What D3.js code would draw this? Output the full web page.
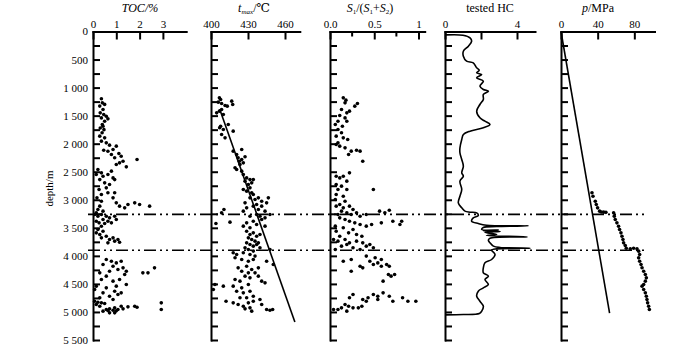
<!DOCTYPE html>
<html><head><meta charset="utf-8">
<script src="https://cdn.jsdelivr.net/npm/d3@7"></script>
<style>
body{margin:0;background:#fff}
svg{display:block}
text{font-family:"Liberation Serif","DejaVu Serif",serif;fill:#000}
</style>
</head><body>
<svg id="c" width="700" height="347" font-family="Liberation Serif, DejaVu Serif, serif"></svg>
<script>
// ---------- data ----------
const depthTicks = d3.range(0, 5501, 250);
const depthLabelTicks = [0,500,1000,1500,2000,2500,3000,3500,4000,4500,5000,5500];
const tocTicks = [0,1,2,3];
const tmaxTicks = [400,430,460];
const sTicks = [0,0.5,1];
const sTickLabels = ["0.0","0.5","1"];
const sMinorTicks = [0.25,0.75];
const hcTicks = [0,2,4];
const hcTickLabels = ["0","","4"];
const pTicks = [0,40,80];
const boundaryDepths = [3260,3900];

// [TOC %, depth m]
const tocPoints = [
[0.36,1200],[0.4,1272],[0.5,1300],[0.29,1330],[0.43,1390],[0.31,1450],[0.46,1480],[0.57,1510],[0.36,1540],[0.5,1600],
[0.4,1660],[0.31,1720],[0.47,1750],[0.39,1806],[0.29,1866],[0.5,1896],[0.36,1955],[0.57,1985],[0.64,1557],[0.43,1688],
[0.71,2026],[0.86,2104],[0.46,2116],[1.0,2044],[0.79,2193],[1.11,2175],[0.93,2252],[1.29,2312],[1.89,2282],[1.43,2413],
[1.0,2371],[1.21,2223],[0.64,2134],[1.14,2342],
[0.21,2460],[0.36,2520],[0.14,2550],[0.43,2580],[0.29,2640],[0.64,2550],[0.79,2490],[0.86,2610],[0.93,2640],[0.5,2698],
[0.71,2728],[0.57,2787],[0.26,2817],[0.64,2876],[0.36,2906],[0.17,2966],
[0.93,2876],[0.86,2966],[0.36,3025],[0.29,3114],[1.0,3055],[1.14,3114],[1.5,3085],[1.79,3055],[2.0,3085],[2.43,3114],
[1.36,3144],[0.21,3174],[0.43,3203],[0.14,3233],
[0.07,3263],[0.21,3293],[0.36,3263],[0.57,3293],[0.71,3322],[0.93,3293],[0.43,3352],[0.14,3382],[0.26,3411],[0.5,3423],
[0.64,3382],[0.79,3411],[1.0,3352],[0.36,3471],
[0.21,3530],[0.43,3560],[0.29,3620],[0.57,3649],[0.36,3679],[0.71,3709],[0.86,3679],[0.93,3738],[1.07,3709],[1.14,3756],
[0.64,3768],[0.14,3590],
[0.57,4065],[0.79,4095],[1.0,4125],[0.43,4154],[0.86,4184],[1.21,4095],[1.29,4214],[1.07,4243],[1.43,4273],[0.71,4273],
[0.29,4303],[0.57,4362],[1.36,4332],[2.14,4303],[2.36,4303],[2.64,4214],[1.14,4422],[0.36,4422],[0.86,4451],[1.43,4511],
[0.14,4540],[0.57,4570],[1.0,4540],[0.07,4600],[0.43,4659],[0.93,4630],[1.07,4689],[0.71,4719],[1.21,4659],[0.29,4748],
[0.86,4778],
[0.07,4808],[0.21,4826],[0.36,4838],[0.5,4850],[0.14,4867],[0.29,4897],[0.57,4957],[0.71,4945],[0.86,4969],[0.93,4927],
[1.07,4957],[1.21,4897],[1.29,4945],[1.5,4909],[1.79,4897],[1.89,4915],[2.93,4838],[2.93,4957],[0.43,4986],[0.71,5016],
[0.93,5016],[0.64,4975],[1.0,4980]
];

// [Tmax °C, depth m]
const tmaxPoints = [
[406.8,1183],[407.8,1212],[405.9,1260],[408.6,1284],[411.4,1319],[416.8,1242],[417.6,1301],[413.2,1331],[404.6,1450],[406.8,1420],
[408.6,1391],[410,1480],
[407.8,1688],[410,1747],[408.6,1836],[414,1658],[418,1777],[411.4,1896],[407,1717],
[418,2133],[420.8,2193],[424.9,2104],[422,2252],[424.9,2282],[426.2,2342],[419.5,2430],[423.5,2371],[427.6,2234],[420.8,2460],
[424.9,2490],[423,2312],
[426.2,2550],[428.9,2610],[431.6,2640],[427.6,2668],[430.3,2728],[433,2698],[434.3,2640],[431.6,2787],[428.9,2846],[433,2876],
[434.3,2906],[426.2,2816],
[431.6,2966],[435.7,2995],[438.4,2966],[441.1,3025],[446.5,2966],[445.1,3055],[437,3085],[434.3,3114],[441.1,3114],[438.4,3174],
[427.6,3055],[428.9,3144],[426.2,3203],[410.5,3174],[408.6,3233],[443.8,3203],[447.8,3263],
[437,3263],[439.7,3293],[431.6,3293],[443.8,3322],[441.1,3352],[434.3,3382],[428.9,3411],[404,3423],[415.4,3399],[437,3440],
[443.8,3470],[431.6,3500],[426.2,3470],
[428.9,3560],[434.3,3590],[431.6,3620],[437,3649],[439.7,3620],[430.3,3679],[433,3709],[435.7,3738],[438.4,3768],[428.9,3768],
[431.6,3797],[434.3,3827],[437,3797],[439.7,3856],[427.6,3856],[430.3,3886],[434.3,3915],[447.8,3886],
[418,3945],[420.8,3975],[426.2,3945],[431.6,3975],[435.7,4004],[419.5,4034],[424.9,4064],[430.3,4095],[434.3,4064],[445.1,4095],
[450.5,4154],[422,4214],[428.9,4184],[433,4243],[438.4,4214],[424.9,4273],[430.3,4303],[435.7,4303],[427.6,4362],[431.6,4392],
[438.4,4362],[419.5,4422],[423.5,4451],[441.1,4451],[443.8,4481],
[403.2,4511],[410,4540],[401.9,4600],[418,4540],[424.9,4570],[430.3,4511],[420.8,4630],[426.2,4659],[431.6,4630],[434.3,4719],
[428.9,4748],[423.5,4748],[439.7,4778],[412.2,4808],[418,4838],[422,4867],[426.2,4897],[430.3,4838],[434.3,4808],[431.6,4927],
[433,4986],[441.1,4867],[445.1,4957],[447.8,4969],[450,4957],[427.6,4945]
];
const tmaxTrend = [[407,1380],[468,5180]];

// [S1/(S1+S2), depth m]
const sPoints = [
[0.15,1183],[0.18,1224],[0.17,1272],[0.31,1284],[0.28,1331],[0.13,1391],[0.22,1420],[0.19,1450],[0.11,1498],[0.17,1540],
[0.09,1600],[0.06,1658],[0.14,1688],[0.19,1600],
[0.09,1747],[0.13,1806],[0.07,1866],[0.15,1896],[0.2,1925],[0.09,1985],[0.07,2014],[0.11,2044],[0.17,2074],[0.24,2133],
[0.3,2116],[0.34,2133],[0.21,2193],[0.37,2312],
[0.07,2580],[0.11,2610],[0.15,2580],[0.22,2520],[0.19,2668],[0.07,2728],[0.13,2757],[0.09,2816],[0.19,2816],[0.49,2816],
[0.07,2906],[0.15,2936],[0.06,2995],[0.17,3025],[0.11,3085],
[0.07,3114],[0.15,3144],[0.22,3114],[0.26,3174],[0.13,3203],[0.19,3233],[0.24,3263],[0.3,3233],[0.09,3263],[0.56,3203],
[0.62,3233],[0.67,3186],[0.34,3293],[0.41,3263],
[0.11,3322],[0.17,3352],[0.22,3382],[0.28,3411],[0.34,3440],[0.41,3470],[0.47,3440],[0.58,3411],[0.71,3382],[0.81,3382],
[0.79,3440],[0.06,3470],[0.15,3500],[0.26,3530],[0.21,3590],[0.07,3560],[0.11,3649],[0.3,3620],[0.36,3649],
[0.04,3709],[0.09,3738],[0.17,3709],[0.22,3768],[0.3,3738],[0.37,3768],[0.45,3797],[0.13,3827],[0.19,3797],[0.26,3856],
[0.41,3827],[0.49,3856],[0.06,3886],[0.34,3886],
[0.41,4004],[0.51,4034],[0.58,4064],[0.15,4095],[0.24,4064],[0.45,4095],[0.54,4125],[0.49,4154],[0.64,4154],[0.34,4184],
[0.37,4214],[0.67,4184],[0.58,4184],[0.24,4273],[0.73,4332],[0.69,4362],[0.66,4332],[0.6,4451],
[0.26,4689],[0.22,4748],[0.37,4778],[0.43,4748],[0.49,4689],[0.54,4719],[0.54,4778],[0.6,4659],[0.67,4719],[0.71,4808],
[0.82,4748],[0.88,4808],[0.97,4808],[0.17,4867],[0.21,4897],[0.13,4927],[0.19,4986],[0.26,4927],[0.32,4927],[0.36,4897],
[0.09,4957],[0.04,4957],[0.41,4808]
];

// tested HC curve [value, depth m]
const hcCurve = [
[0.05,60],[1.0,66],[1.39,113],[1.48,172],[1.3,261],[1.02,351],[1.02,440],[1.2,529],[1.57,559],[1.76,648],
[1.9,689],[1.76,737],[2.04,767],[1.76,826],[2.13,885],[1.94,975],[2.13,1034],[2.41,1064],[2.13,1123],[2.13,1212],
[1.94,1301],[1.76,1420],[1.94,1539],[2.22,1599],[2.5,1658],[2.13,1717],[1.39,1777],[1.02,1836],[0.93,1925],[0.83,2074],
[0.83,2163],[0.93,2282],[1.02,2401],[0.93,2520],[1.02,2579],[0.83,2668],[0.93,2817],[0.83,2936],[0.74,3055],[0.93,3144],
[1.11,3203],[1.39,3221],[1.76,3233],[1.85,3280],[1.57,3322],[1.48,3382],[1.85,3423],[2.31,3453],[4.63,3465],[2.87,3477],
[2.13,3494],[2.04,3530],[2.96,3540],[2.13,3552],[3.06,3566],[2.22,3580],[2.87,3619],[2.31,3637],[4.57,3661],[2.5,3685],
[2.41,3720],[2.5,3768],[2.69,3827],[3.06,3851],[4.72,3863],[2.87,3875],[2.59,3898],[2.78,3975],[2.59,4065],[2.22,4124],
[2.13,4213],[2.13,4302],[2.41,4362],[2.22,4421],[2.41,4510],[2.13,4570],[1.85,4629],[1.76,4718],[1.94,4808],[2.13,4897],
[2.04,4986],[1.91,5028],[1.02,5046],[0.05,5052]
];

// pressure [MPa, depth m]
const pPoints = [
[33.8,2876],[34.9,2936],[37.4,3025],[38.5,3084],[39.9,3144],[42.1,3203],[44,3218],[46.5,3221],[49,3224],
[57.4,3233],[58.1,3292],[59.2,3352],[61,3411],[62.8,3471],[63.9,3530],[65.4,3590],[66.5,3649],[67.6,3709],[68.3,3768],
[70.1,3815],[71.2,3863],[75.6,3875],[79.2,3863],[82.9,3875],[84.7,3916],[85.8,3976],[84.7,4035],[85.8,4095],[87.3,4154],
[88.4,4213],[90.2,4273],[92,4332],[93.1,4392],[92,4451],[90.2,4510],[88.4,4540],[90.2,4600],[92,4659],[93.1,4719],
[93.8,4778],[94.5,4838],[95.6,4897],[96.4,4957]
];
const pHydro = [[0,0],[53,5020]];

// ---------- drawing ----------
const FONT = '"Liberation Serif","DejaVu Serif",serif';
const svg = d3.select("#c");
const y = d3.scaleLinear().domain([0,5500]).range([31.5,340]);
const fmtDepth = d3.formatLocale({decimal:".", thousands:" ", grouping:[3], currency:["",""]}).format(",d");

const xToc  = d3.scaleLinear().domain([0,4]).range([93,186.2]);
const xTmax = d3.scaleLinear().domain([400,472]).range([211,299.8]);
const xS    = d3.scaleLinear().domain([0,1.07]).range([330,424.7]);
const xHc   = d3.scaleLinear().domain([0,5]).range([445,535]);
const xP    = d3.scaleLinear().domain([0,102]).range([561,654.5]);

function styleAxis(g){
  g.attr("font-family", FONT);
  g.select(".domain").attr("stroke","#000").attr("stroke-width",2).attr("stroke-linecap","square");
  g.selectAll(".tick line").attr("stroke","#000").attr("stroke-width",2);
  g.selectAll(".tick text").style("font-family",FONT).attr("font-size",11).attr("fill","#000");
}

const panels = [
  {x:xToc, ticks:tocTicks, labels:tocTicks.map(String), first:true},
  {x:xTmax, ticks:tmaxTicks, labels:tmaxTicks.map(String)},
  {x:xS, ticks:sTicks, labels:sTickLabels, minor:sMinorTicks},
  {x:xHc, ticks:hcTicks, labels:hcTickLabels},
  {x:xP, ticks:pTicks, labels:pTicks.map(String)}
];

panels.forEach(p=>{
  const x0 = p.x.range()[0];
  const gl = svg.append("g").attr("transform",`translate(${x0},0)`)
    .call(d3.axisLeft(y).tickValues(depthTicks).tickSize(-7).tickSizeOuter(0).tickPadding(5)
      .tickFormat(d => p.first && depthLabelTicks.includes(d) && d>0 ? fmtDepth(d) : ""));
  styleAxis(gl);
  gl.selectAll(".tick").filter(d=>d===0).select("line").remove();
  const gt = svg.append("g").attr("transform",`translate(0,${y(0)})`)
    .call(d3.axisTop(p.x).tickValues(p.ticks).tickSize(-8).tickSizeOuter(0).tickPadding(4)
      .tickFormat((d,i)=>p.labels[i]));
  styleAxis(gt);
  if (p.minor){
    svg.append("g").selectAll("line").data(p.minor).join("line")
      .attr("x1",d=>p.x(d)).attr("x2",d=>p.x(d)).attr("y1",y(0)).attr("y2",y(0)+5)
      .attr("stroke","#000").attr("stroke-width",2);
  }
});
// depth "0" label
svg.append("text").attr("x",88).attr("y",y(0)).attr("dy","0.32em").attr("text-anchor","end")
  .style("font-family",FONT).attr("font-size",11).text("0");

// axis label
svg.append("text").attr("transform",`translate(53,${y(2800)}) rotate(-90)`).attr("text-anchor","middle")
  .style("font-family",FONT).attr("font-size",11).text("depth/m");

// titles
function title(cx, parts){
  const t = svg.append("text").attr("x",cx).attr("y",12).attr("text-anchor","middle")
    .style("font-family",FONT).attr("font-size",12);
  parts.forEach(pt=>{
    const s = t.append("tspan").text(pt.t);
    if (pt.i) s.attr("font-style","italic");
    if (pt.sub) s.attr("font-size",7).attr("dy",2);
    if (pt.up) s.attr("dy",-2);
  });
}
title(140,[{t:"TOC",i:1},{t:"/%",i:1}]);
title(254,[{t:"t",i:1},{t:"max",sub:1,i:1},{t:"/℃",up:1}]);
title(370,[{t:"S",i:1},{t:"1",sub:1},{t:"/(",up:1},{t:"S",i:1},{t:"1",sub:1},{t:"+",up:1},{t:"S",i:1},{t:"2",sub:1},{t:")",up:1}]);
title(490,[{t:"tested HC"}]);
title(598,[{t:"p",i:1},{t:"/MPa"}]);

// boundary lines
svg.append("g").selectAll("line").data(boundaryDepths).join("line")
  .attr("x1",88).attr("x2",648).attr("y1",d=>y(d)).attr("y2",d=>y(d))
  .attr("stroke","#000").attr("stroke-width",1.6).attr("stroke-dasharray","12,4,2,4,2,4");

// scatter
function dots(data, x){
  svg.append("g").selectAll("circle").data(data).join("circle")
    .attr("cx",d=>x(d[0])).attr("cy",d=>y(d[1])).attr("r",1.8).attr("fill","#000");
}
dots(tocPoints, xToc);
dots(tmaxPoints, xTmax);
dots(sPoints, xS);
dots(pPoints, xP);

// lines
function path(data, x, curve){
  svg.append("path").datum(data)
    .attr("d", d3.line().x(d=>x(d[0])).y(d=>y(d[1])).curve(curve||d3.curveLinear))
    .attr("fill","none").attr("stroke","#000").attr("stroke-width",1.6);
}
path(tmaxTrend, xTmax);
path(pHydro, xP);
path(hcCurve, xHc, d3.curveCatmullRom.alpha(0.5));
</script>
</body></html>
